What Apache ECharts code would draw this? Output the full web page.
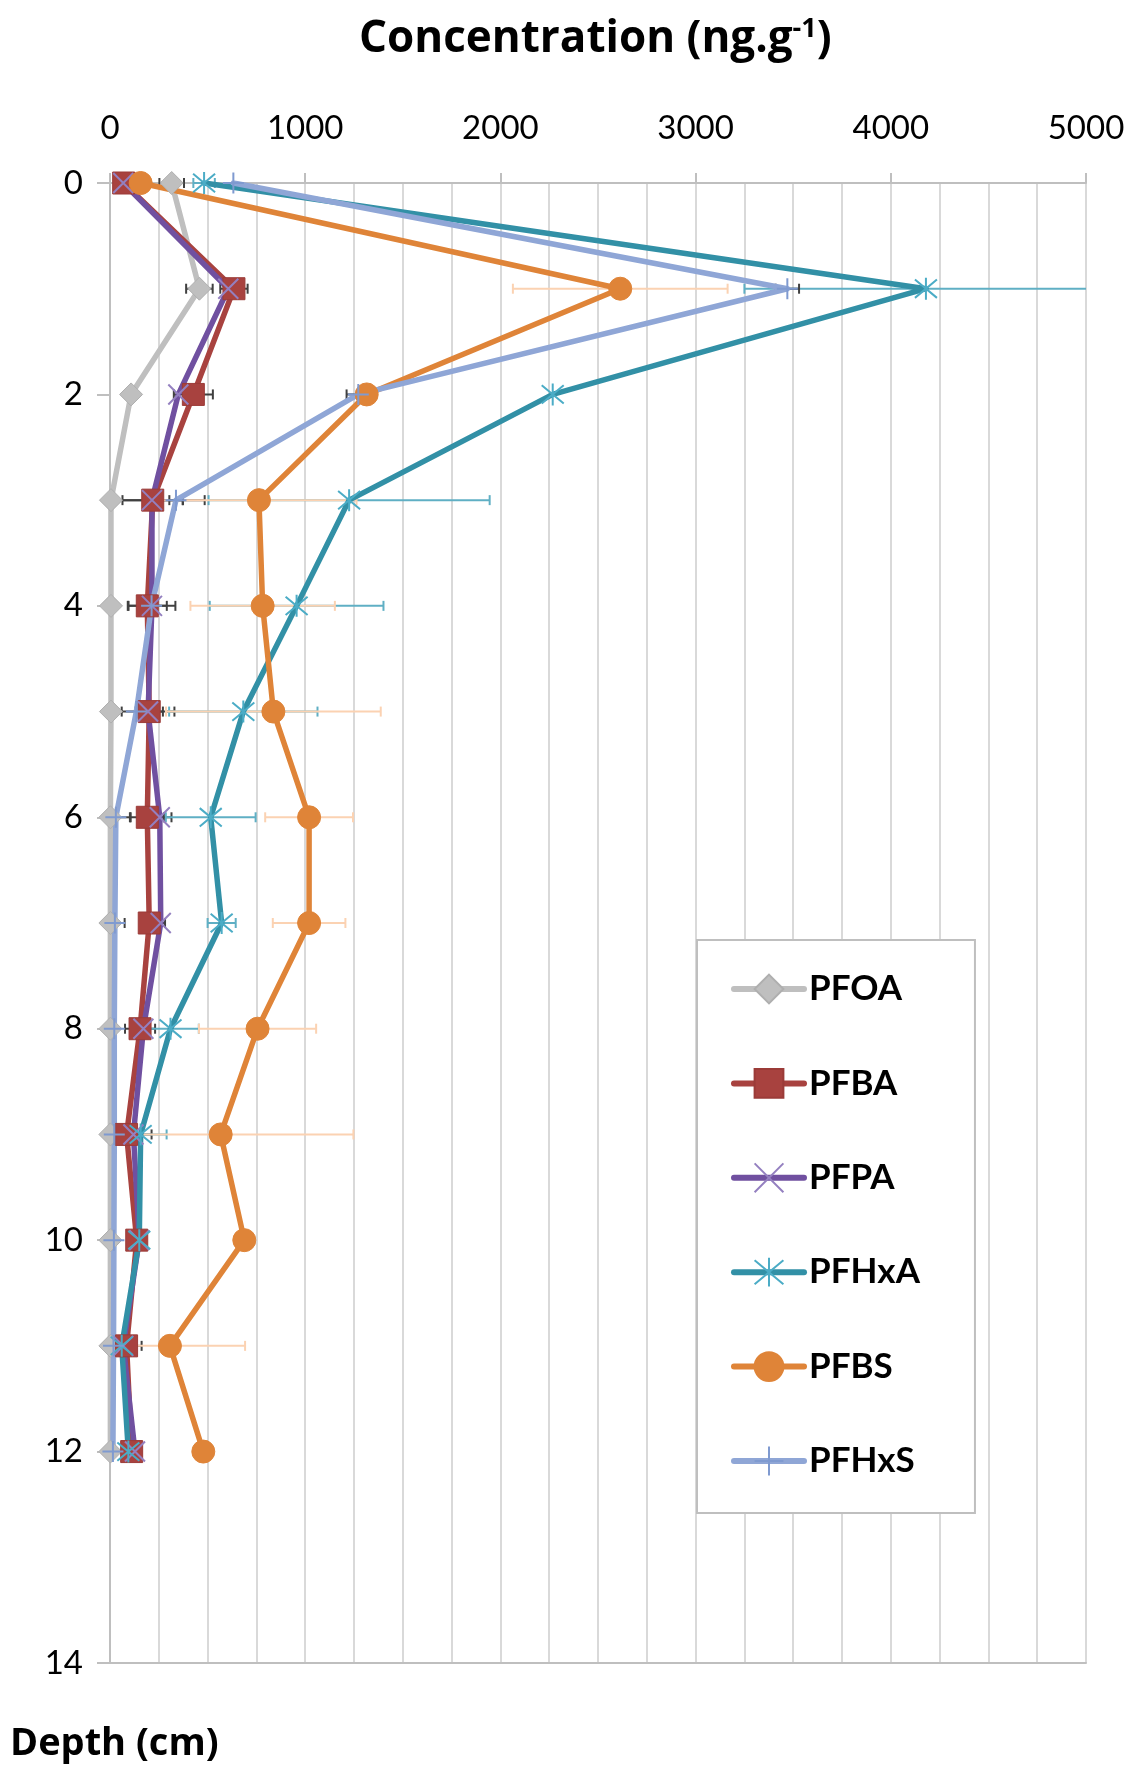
<!DOCTYPE html>
<html>
<head>
<meta charset="utf-8">
<script src="https://cdn.jsdelivr.net/npm/echarts@6/dist/echarts.min.js"></script>
<style>
  html, body { margin: 0; padding: 0; background: #ffffff; }
  #chart { width: 1131px; height: 1769px; }
</style>
</head>
<body>
<div id="chart"></div>
<script>
// Sampling depths (cm)
const depths = [0, 1, 2, 3, 4, 5, 6, 7, 8, 9, 10, 11, 12];
const seriesNames = ['PFOA', 'PFBA', 'PFPA', 'PFHxA', 'PFBS', 'PFHxS'];

// Mean concentrations (ng/g) per depth
const pfoa  = [316, 458, 108, 5, 5, 5, 2, 2, 2, 2, 2, 2, 2];
const pfba  = [70, 635, 427, 219, 191, 201, 191, 201, 154, 85, 137, 85, 111];
const pfpa  = [68, 606, 350, 215, 215, 195, 255, 260, 171, 120, 150, 68, 128];
const pfhxa = [482, 4180, 2268, 1225, 956, 683, 516, 572, 310, 157, 150, 60, 94];
const pfbs  = [157, 2614, 1315, 763, 782, 837, 1020, 1020, 756, 567, 688, 307, 478];
const pfhxs = [632, 3470, 1272, 338, 213, 135, 30, 25, 22, 22, 20, 18, 15];

// Standard deviations (± ng/g), 0 = no bar
const pfoaErr  = [63, 68, 0, 0, 0, 0, 100, 0, 0, 0, 0, 0, 0];
const pfbaErr  = [0, 70, 100, 155, 100, 70, 85, 0, 77, 0, 0, 77, 0];
const pfpaErr  = [0, 0, 0, 270, 120, 135, 60, 22, 0, 93, 0, 0, 0];
const pfhxaErr = [55, 930, 0, 720, 445, 380, 230, 72, 145, 133, 0, 0, 0];
const pfbsErr  = [0, 550, 0, 500, 370, 550, 225, 186, 300, 680, 0, 385, 0];
const pfhxsErr = [0, 60, 60, 34, 0, 0, 0, 50, 0, 0, 0, 0, 0];

// Axis ranges
const xTicks = [0, 1000, 2000, 3000, 4000, 5000];
const yTicks = [0, 2, 4, 6, 8, 10, 12, 14];

const X_MIN = xTicks[0], X_MAX = xTicks[xTicks.length - 1];
const FONT = 'Lato';
const HEAD_FONT = 'Open Sans';

const values = [pfoa, pfba, pfpa, pfhxa, pfbs, pfhxs];
const errors = [pfoaErr, pfbaErr, pfpaErr, pfhxaErr, pfbsErr, pfhxsErr];

const looks = [
  { line: '#BFBFBF', symbol: 'diamond', size: 23, fill: '#BFBFBF', border: '#AFAFAF', bw: 1, err: '#404040' },
  { line: '#A8423F', symbol: 'rect', size: 22, fill: '#A8423F', border: '#9B3B38', bw: 1, err: '#404040' },
  { line: '#7050A0', symbol: 'path://M0,0L10,10M10,0L0,10', size: 20, fill: '#9480C0', border: '#9480C0', bw: 2, err: '#404040' },
  { line: '#3290A6', symbol: 'path://M0,0L10,10M10,0L0,10M5,-1L5,11', size: 22, fill: '#4BACC6', border: '#4BACC6', bw: 2, err: '#5FAFC4' },
  { line: '#DF8438', symbol: 'circle', size: 23, fill: '#DF8438', border: '#DF8438', bw: 1, err: '#FBD2B2' },
  { line: '#8FA6D6', symbol: 'path://M0,5L10,5M5,0L5,10', size: 21, fill: '#7F9AD0', border: '#7F9AD0', bw: 2, err: '#404040' }
];

function lineSeries(i) {
  const s = looks[i];
  return {
    type: 'line',
    name: seriesNames[i],
    data: values[i].map((v, k) => [v, depths[k]]),
    symbol: s.symbol,
    symbolSize: s.size,
    lineStyle: { color: s.line, width: 5.5, cap: 'round', join: 'round' },
    itemStyle: { color: s.fill, borderColor: s.border, borderWidth: s.bw },
    z: 3,
    animation: false
  };
}

function errorSeries(i) {
  const color = looks[i].err;
  const data = [];
  values[i].forEach((v, k) => { if (errors[i][k] > 0) data.push([v, depths[k], errors[i][k]]); });
  return {
    type: 'custom',
    name: seriesNames[i] + ' sd',
    data: data,
    dimensions: ['value', 'depth', 'sd'],
    encode: { x: 0, y: 1 },
    z: 2,
    clip: false,
    silent: true,
    animation: false,
    renderItem: function (params, api) {
      const v = api.value(0), d = api.value(1), e = api.value(2);
      const lo = Math.max(X_MIN, v - e), hi = Math.min(X_MAX, v + e);
      const p1 = api.coord([lo, d]), p2 = api.coord([hi, d]);
      const cap = 5;
      const st = { stroke: color, lineWidth: 2 };
      const children = [{ type: 'line', shape: { x1: p1[0], y1: p1[1], x2: p2[0], y2: p2[1] }, style: st }];
      if (v - e >= X_MIN) children.push({ type: 'line', shape: { x1: p1[0], y1: p1[1] - cap, x2: p1[0], y2: p1[1] + cap }, style: st });
      if (v + e <= X_MAX) children.push({ type: 'line', shape: { x1: p2[0], y1: p2[1] - cap, x2: p2[0], y2: p2[1] + cap }, style: st });
      return { type: 'group', children: children };
    }
  };
}

const series = [];
for (let i = 0; i < seriesNames.length; i++) series.push(lineSeries(i));
for (let i = 0; i < seriesNames.length; i++) series.push(errorSeries(i));

const gridGray = '#D9D9D9';
const axisGray = '#BFBFBF';

const option = {
  backgroundColor: '#ffffff',
  animation: false,
  title: [
    {
      text: 'Concentration (ng.g{sup|-1})',
      left: 354,
      top: 11,
      textStyle: {
        fontFamily: HEAD_FONT, fontWeight: 'bold', fontSize: 44, color: '#000',
        rich: { sup: { fontFamily: HEAD_FONT, fontWeight: 'bold', fontSize: 27, color: '#000', verticalAlign: 'top', padding: [0, 0, 19, 0] } }
      }
    },
    {
      text: 'Depth (cm)',
      left: 5,
      top: 1720,
      textStyle: { fontFamily: HEAD_FONT, fontWeight: 'bold', fontSize: 38, color: '#000' }
    }
  ],
  legend: {
    orient: 'vertical',
    left: 697,
    top: 940,
    itemWidth: 70,
    itemHeight: 36,
    itemGap: 58.4,
    padding: [31, 55, 34, 34],
    backgroundColor: '#ffffff',
    borderColor: axisGray,
    borderWidth: 2,
    lineStyle: { width: 6, cap: 'round' },
    textStyle: { fontFamily: FONT, fontWeight: 'bold', fontSize: 35, color: '#000', lineHeight: 36 },
    data: seriesNames
  },
  grid: { left: 110, right: 45, top: 183, bottom: 106 },
  xAxis: [
    {
      type: 'value',
      position: 'top',
      min: X_MIN,
      max: X_MAX,
      interval: xTicks[1] - xTicks[0],
      axisLine: { show: true, onZero: false, lineStyle: { color: axisGray, width: 2 } },
      axisTick: { show: true, inside: false, length: 10, lineStyle: { color: axisGray, width: 2 } },
      axisLabel: { fontFamily: FONT, fontSize: 33, color: '#000', margin: 38, formatter: v => String(v) },
      splitLine: { show: true, lineStyle: { color: gridGray, width: 2 } },
      minorTick: { show: false, splitNumber: 4 },
      minorSplitLine: { show: true, lineStyle: { color: gridGray, width: 2 } }
    },
    {
      type: 'value',
      position: 'bottom',
      min: X_MIN,
      max: X_MAX,
      axisLine: { show: true, onZero: false, lineStyle: { color: axisGray, width: 2 } },
      axisTick: { show: false },
      axisLabel: { show: false },
      splitLine: { show: false }
    }
  ],
  yAxis: {
    type: 'value',
    inverse: true,
    min: yTicks[0],
    max: yTicks[yTicks.length - 1],
    interval: yTicks[1] - yTicks[0],
    axisLine: { show: true, onZero: false, lineStyle: { color: axisGray, width: 2 } },
    axisTick: { show: true, inside: false, length: 13, lineStyle: { color: axisGray, width: 2 } },
    axisLabel: { fontFamily: FONT, fontSize: 33, color: '#000', margin: 27, formatter: v => String(v) },
    splitLine: { show: false }
  },
  series: series
};

const chart = echarts.init(document.getElementById('chart'), null, { renderer: 'canvas' });
chart.setOption(option);
</script>
</body>
</html>
